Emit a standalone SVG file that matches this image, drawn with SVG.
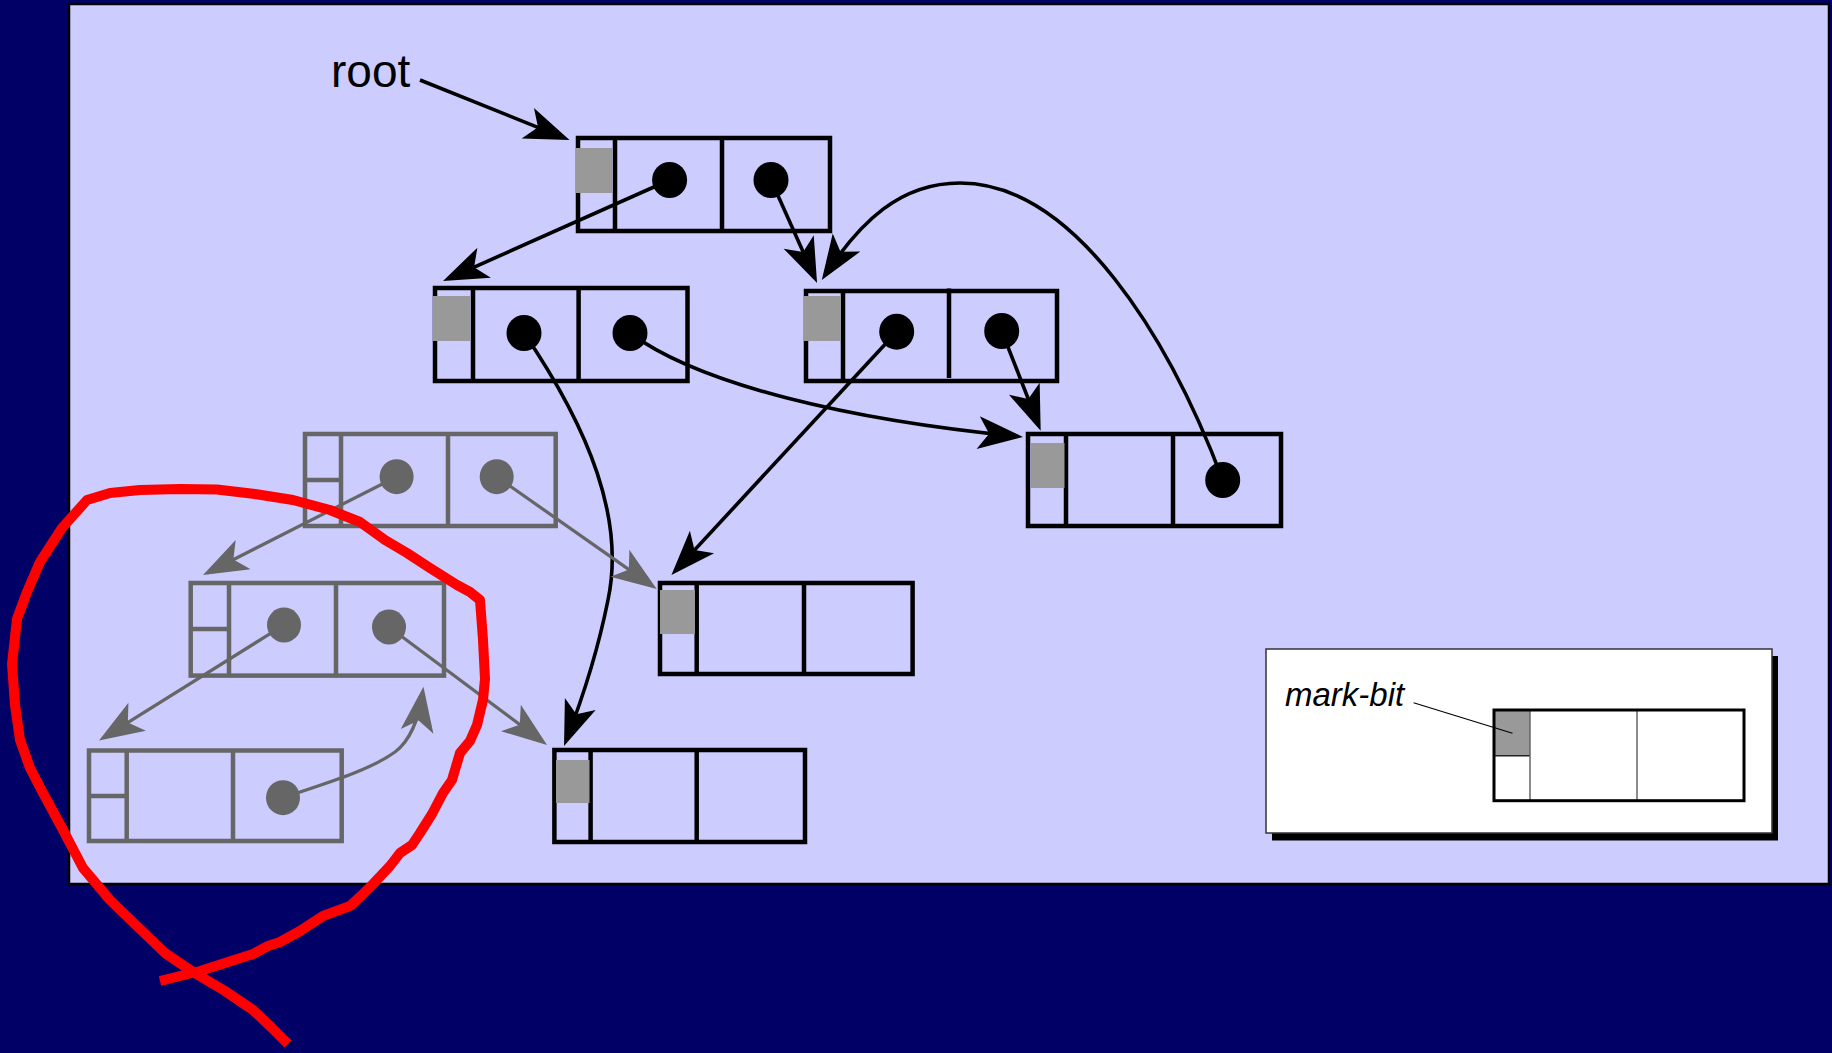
<svg xmlns="http://www.w3.org/2000/svg" width="1832" height="1053" viewBox="0 0 1832 1053">
  <defs>
    <style>
      .cell { fill: none; stroke: #000; stroke-width: 4.5; stroke-linejoin: miter; }
      .cell-dead { fill: none; stroke: #666; stroke-width: 4.5; }
      .mark { fill: #999; }
      .dot { fill: #000; }
      .dot-dead { fill: #666; }
      .ptr { fill: none; stroke: #000; stroke-width: 3.6; marker-end: url(#head); }
      .ptr-dead { fill: none; stroke: #666; stroke-width: 3.2; marker-end: url(#head-dead); }
      .label { font-family: "Liberation Sans", Arial, Helvetica, sans-serif; fill: #000; }
    </style>
    <marker id="head" markerUnits="userSpaceOnUse" viewBox="-46 -18 48 36" markerWidth="48" markerHeight="36" refX="-6" refY="0" orient="auto">
      <path d="M0,0 L-45,-16.5 L-34,0 L-45,16.5 Z" fill="#000"/>
    </marker>
    <marker id="head-dead" markerUnits="userSpaceOnUse" viewBox="-46 -18 48 36" markerWidth="48" markerHeight="36" refX="-6" refY="0" orient="auto">
      <path d="M0,0 L-45,-16.5 L-34,0 L-45,16.5 Z" fill="#666"/>
    </marker>
  </defs>

  <!-- backdrop and heap panel -->
  <rect x="0" y="0" width="1832" height="1053" fill="#000066"/>
  <rect x="69" y="4" width="1760" height="880" fill="#CCCCFF" stroke="#000" stroke-width="2.5"/>

  <text class="label" x="331" y="87" font-size="46">root</text>

  <!-- live cells -->
  <g id="cell-a">
    <rect class="cell" x="578" y="138" width="252" height="93"/>
    <line class="cell" x1="615" y1="138" x2="615" y2="231"/>
    <line class="cell" x1="722" y1="138" x2="722" y2="231"/>
    <rect class="mark" x="576" y="148" width="36.5" height="45"/>
    <ellipse class="dot" cx="669.6" cy="180" rx="17.5" ry="18"/>
    <ellipse class="dot" cx="771" cy="180" rx="17.5" ry="18"/>
  </g>
  <g id="cell-b">
    <rect class="cell" x="435" y="288" width="252.5" height="93"/>
    <line class="cell" x1="473" y1="288" x2="473" y2="381"/>
    <line class="cell" x1="578.6" y1="288" x2="578.6" y2="381"/>
    <rect class="mark" x="433" y="296" width="37.5" height="45"/>
    <ellipse class="dot" cx="524" cy="333" rx="17.5" ry="18"/>
    <ellipse class="dot" cx="630" cy="333" rx="17.5" ry="18"/>
  </g>
  <g id="cell-c">
    <rect class="cell" x="806" y="291" width="251" height="90"/>
    <line class="cell" x1="843" y1="291" x2="843" y2="381"/>
    <line class="cell" x1="949" y1="288.5" x2="949" y2="378"/>
    <rect class="mark" x="804" y="296" width="37" height="45"/>
    <ellipse class="dot" cx="896.7" cy="331.7" rx="17.5" ry="18"/>
    <ellipse class="dot" cx="1001.7" cy="331" rx="17.5" ry="18"/>
  </g>
  <g id="cell-d">
    <rect class="cell" x="1028" y="434" width="253" height="92"/>
    <line class="cell" x1="1066" y1="434" x2="1066" y2="526"/>
    <line class="cell" x1="1173" y1="434" x2="1173" y2="526"/>
    <rect class="mark" x="1031" y="443" width="33.5" height="45"/>
    <ellipse class="dot" cx="1222.7" cy="480" rx="17.5" ry="18"/>
  </g>
  <g id="cell-e">
    <rect class="cell" x="660" y="583" width="252.6" height="91"/>
    <line class="cell" x1="696.7" y1="583" x2="696.7" y2="674"/>
    <line class="cell" x1="804" y1="583" x2="804" y2="674"/>
    <rect class="mark" x="660" y="590" width="35" height="44"/>
  </g>
  <g id="cell-f">
    <rect class="cell" x="554.4" y="750" width="250.6" height="92"/>
    <line class="cell" x1="590.6" y1="750" x2="590.6" y2="842"/>
    <line class="cell" x1="696.7" y1="750" x2="696.7" y2="842"/>
    <rect class="mark" x="556" y="760" width="33.5" height="43"/>
  </g>

  <!-- unreachable cells -->
  <g id="cell-g">
    <rect class="cell-dead" x="305" y="434" width="250.7" height="92"/>
    <line class="cell-dead" x1="341" y1="434" x2="341" y2="526"/>
    <line class="cell-dead" x1="448" y1="434" x2="448" y2="526"/>
    <line class="cell-dead" x1="305" y1="480" x2="341" y2="480"/>
    <ellipse class="dot-dead" cx="396.6" cy="476.7" rx="17" ry="17.5"/>
    <ellipse class="dot-dead" cx="496.7" cy="476.7" rx="17" ry="17.5"/>
  </g>
  <g id="cell-h">
    <rect class="cell-dead" x="190.7" y="583" width="253.3" height="92.6"/>
    <line class="cell-dead" x1="229" y1="583" x2="229" y2="675.6"/>
    <line class="cell-dead" x1="336" y1="583" x2="336" y2="675.6"/>
    <line class="cell-dead" x1="190.7" y1="629" x2="229" y2="629"/>
    <ellipse class="dot-dead" cx="284" cy="625" rx="17" ry="17.5"/>
    <ellipse class="dot-dead" cx="389" cy="627" rx="17" ry="17.5"/>
  </g>
  <g id="cell-i">
    <rect class="cell-dead" x="89" y="750.5" width="252.7" height="90.5"/>
    <line class="cell-dead" x1="126.7" y1="750.5" x2="126.7" y2="841"/>
    <line class="cell-dead" x1="233" y1="750.5" x2="233" y2="841"/>
    <line class="cell-dead" x1="89" y1="796" x2="126.7" y2="796"/>
    <ellipse class="dot-dead" cx="283" cy="797.7" rx="17" ry="17.5"/>
  </g>

  <!-- pointers -->
  <g id="connectors">
    <path class="ptr" d="M420,80 L564,137.8"/>
    <path class="ptr" d="M669.6,180 L448.5,278.6"/>
    <path class="ptr" d="M771,180 L814.6,277.5"/>
    <path class="ptr" d="M1222.7,480 C1170,340 1075,183 960,183 C900,183 860,222 825.1,275.1"/>
    <path class="ptr" d="M1001.7,331 L1038.5,425.1"/>
    <path class="ptr" d="M630,333 C700,385 850,420 1017,436.4"/>
    <path class="ptr" d="M896.7,331.7 L675.5,570.6"/>
    <path class="ptr" d="M524,333 C590,430 625,520 608,600 C598,650 583,697 566.2,740.4"/>
    <path class="ptr-dead" d="M496.7,476.7 L651.8,585.6"/>
    <path class="ptr-dead" d="M396.6,476.7 L208.4,572.3"/>
    <path class="ptr-dead" d="M284,625 L104.1,737.4"/>
    <path class="ptr-dead" d="M389,627 L542.2,741.4"/>
    <path class="ptr-dead" d="M283,797.7 C330,782 370,770 395,752 C410,741 419,718 422.6,692.8"/>
  </g>

  <!-- hand-drawn loop around the garbage -->
  <polyline fill="none" stroke="#FF0000" stroke-width="10" stroke-linejoin="round" stroke-linecap="butt"
    points="160,981 200,971 253,954 268,946 280,942 300,931 323,916 350,906 362,895 373,884 390,866 400,853 412,845 420,833 432,814 443,793 452,780 460,753 470,741 477,725 483,700 485,679 483,640 480,600 470,592 457,585 430,568 407,553 385,540 360,522 330,510 293,500 255,494 217,489.5 180,489 140,490 110,493 87,500 62,528 40,562 27,592 17,619 12,664 15,705 20,740 30,768 43,793 62,828 83,868 110,900 140,929 165,953 193,972 225,991 253,1010 272,1028 288,1044"/>

  <!-- legend -->
  <g id="legend">
    <rect x="1272" y="656" width="506" height="184.5" fill="#000"/>
    <rect x="1266" y="649" width="506" height="184" fill="#fff" stroke="#333" stroke-width="1.5"/>
    <text class="label" x="1285" y="705.5" font-size="33" font-style="italic">mark-bit</text>
    <g id="legend-cell">
      <rect class="mark" x="1494" y="710" width="36" height="45.7"/>
      <line x1="1494" y1="755.7" x2="1530" y2="755.7" stroke="#222" stroke-width="1.5"/>
      <line x1="1530" y1="710" x2="1530" y2="800.7" stroke="#666" stroke-width="1.5"/>
      <line x1="1637" y1="710" x2="1637" y2="800.7" stroke="#666" stroke-width="1.5"/>
      <rect x="1494" y="710" width="250" height="90.7" fill="none" stroke="#000" stroke-width="3"/>
    </g>
    <line x1="1413.6" y1="702.7" x2="1512.5" y2="733.3" stroke="#000" stroke-width="1.2"/>
  </g>
</svg>
